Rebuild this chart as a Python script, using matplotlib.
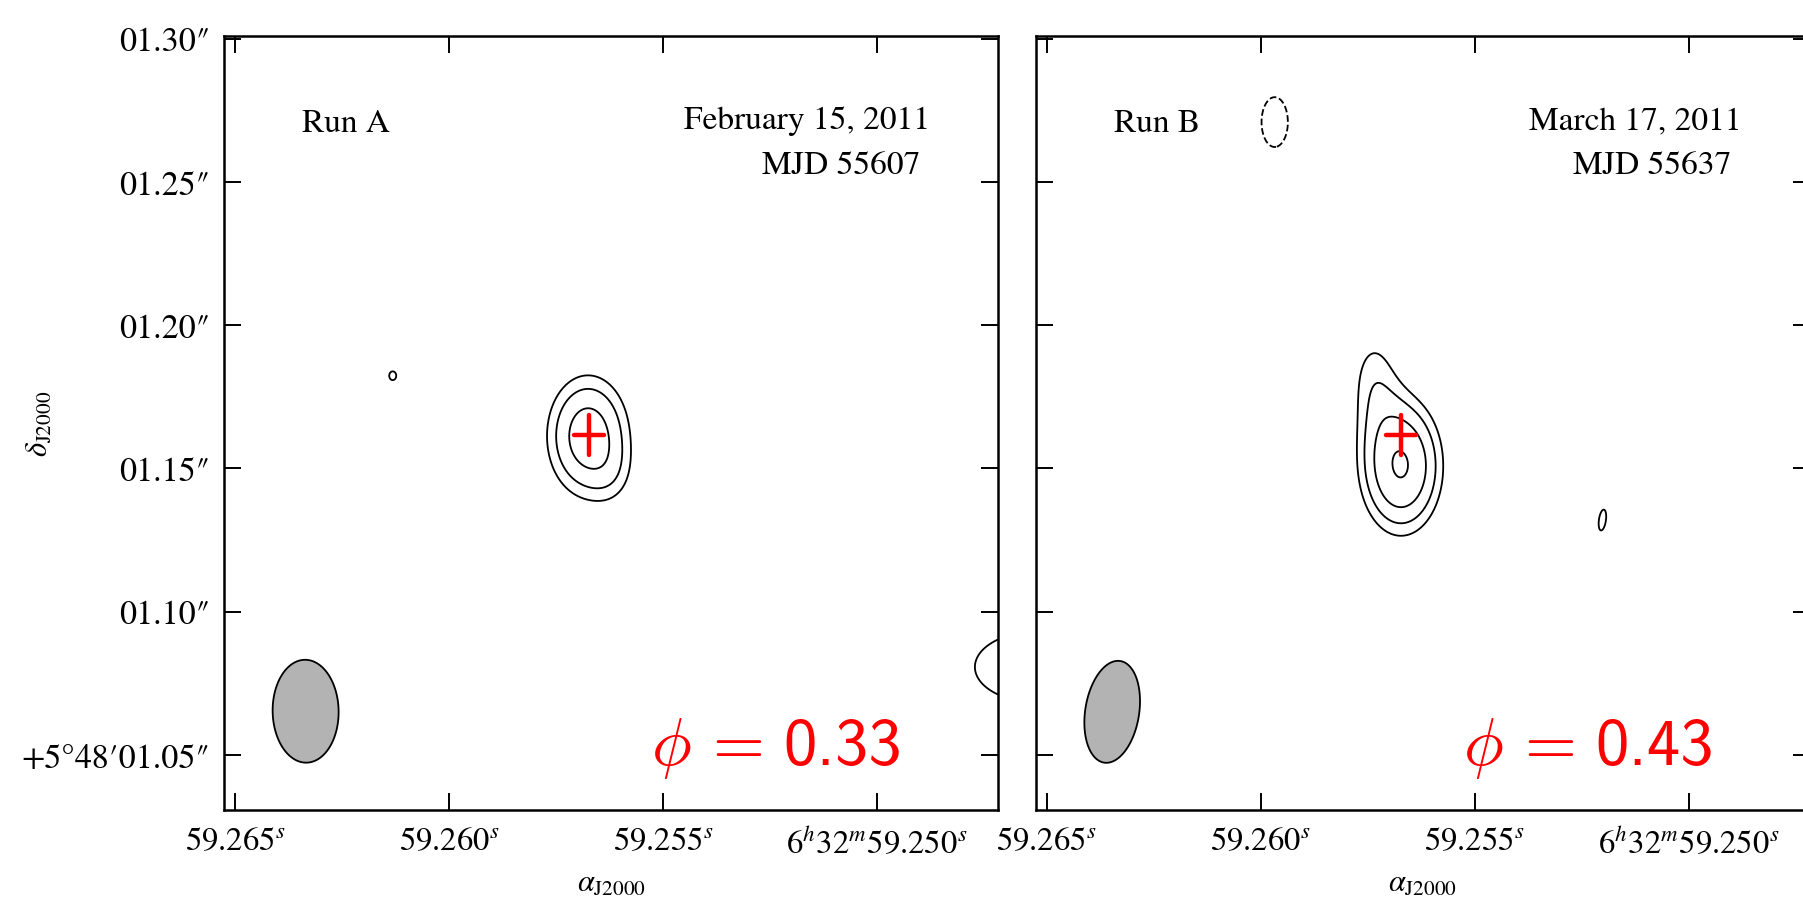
import numpy as np
import matplotlib
matplotlib.use("Agg")
from matplotlib import pyplot as plt

plt.rcParams["font.family"] = "STIXGeneral"
plt.rcParams["mathtext.fontset"] = "stix"

# axes: RA in seconds of 6h32m, Dec in arcsec of +5d48'
ra_ticks = [59.265, 59.260, 59.255, 59.250]
ra_labels = [r"$59.265^{s}$", r"$59.260^{s}$", r"$59.255^{s}$", r"$6^{h}32^{m}59.250^{s}$"]
dec_ticks = [1.05, 1.10, 1.15, 1.20, 1.25, 1.30]
dec_labels = ["+5°48′01.05″", "01.10″", "01.15″", "01.20″", "01.25″", "01.30″"]
ra_lim = (59.265257, 59.247173)
dec_lim = (1.0308, 1.3009)
dec0 = 5 + 48 / 60

runs = ["Run A", "Run B"]
dates = ["February 15, 2011", "March 17, 2011"]
mjds = ["MJD 55607", "MJD 55637"]
phases = [0.33, 0.43]

# expected position (red cross) with its uncertainty
cross_ra, cross_dec = 59.25672, 1.1617
cross_ra_err, cross_dec_err = 0.00035, 0.0070

# synthesized beam: centre, FWHM major/minor (arcsec), position angle (deg)
beam_ra = [59.26335, 59.26347]
beam_dec = [1.06527, 1.06506]
beam_maj = [0.0359, 0.0359]
beam_min = [0.0230, 0.0188]
beam_pa = [1.0, -9.0]

# emission: centre, peak (rms units), E-W / N-S sigma (arcsec), PA
comp_a_ra = [59.256752, 59.256130, 59.261315, 59.246238]
comp_a_dec = [1.16130, 1.14630, 1.18234, 1.0807]
comp_a_peak = [7.2, 1.1, 3.3, 4.8]
comp_a_wid = [0.0108, 0.0063, 0.0028, 0.0227]
comp_a_hgt = [0.0160, 0.0087, 0.0035, 0.0128]
comp_a_pa = [0, 0, 0, 0]

comp_b_ra = [59.256722, 59.257376, 59.252016, 59.259673]
comp_b_dec = [1.15083, 1.18293, 1.13199, 1.27086]
comp_b_peak = [8.67, 3.0, 3.3, -3.3]
comp_b_wid = [0.0101, 0.0070, 0.0028, 0.0105]
comp_b_hgt = [0.0167, 0.0147, 0.0084, 0.0199]
comp_b_pa = [0, 0, -8, 0]

levels = [-3, 3, 3 * 2 ** 0.5, 6, 6 * 2 ** 0.5, 12]

cosd = np.cos(np.radians(dec0))
RA, DEC = np.meshgrid(np.linspace(ra_lim[1], ra_lim[0], 1500),
                      np.linspace(dec_lim[0], dec_lim[1], 1500))


def sky_map(ras, decs, peaks, wids, hgts, pas):
    img = np.zeros_like(RA)
    for r0, d0, p, w, h, a in zip(ras, decs, peaks, wids, hgts, pas):
        dx = (RA - r0) * 15 * cosd
        dy = DEC - d0
        t = np.radians(a)
        m = dx * np.sin(t) + dy * np.cos(t)
        n = dx * np.cos(t) - dy * np.sin(t)
        img += p * np.exp(-0.5 * (n / w) ** 2 - 0.5 * (m / h) ** 2)
    return img


maps = [sky_map(comp_a_ra, comp_a_dec, comp_a_peak, comp_a_wid, comp_a_hgt, comp_a_pa),
        sky_map(comp_b_ra, comp_b_dec, comp_b_peak, comp_b_wid, comp_b_hgt, comp_b_pa)]

fig = plt.figure(figsize=(18.03, 9.03), dpi=100)
axes = [fig.add_axes([0.12424, 0.10188, 0.42929, 0.85714]),
        fig.add_axes([0.57443, 0.10188, 0.42929, 0.85714])]

for i, ax in enumerate(axes):
    ax.contour(RA, DEC, maps[i], levels=levels, colors="k", linewidths=1.3)

    # beam ellipse
    t = np.linspace(0, 2 * np.pi, 300)
    pa = np.radians(beam_pa[i])
    m = beam_maj[i] / 2 * np.cos(t)
    n = beam_min[i] / 2 * np.sin(t)
    dx = n * np.cos(pa) + m * np.sin(pa)
    dy = -n * np.sin(pa) + m * np.cos(pa)
    ax.fill(beam_ra[i] + dx / (15 * cosd), beam_dec[i] + dy,
            facecolor="#b3b3b3", edgecolor="k", lw=1.3)

    eb = ax.errorbar(cross_ra, cross_dec, xerr=cross_ra_err, yerr=cross_dec_err,
                     fmt="none", ecolor="red", elinewidth=3.2, capsize=0, zorder=5)
    eb[2][0].set_capstyle("round")
    eb[2][1].set_capstyle("round")

    ax.text(0.101, 0.877, runs[i], transform=ax.transAxes, fontsize=24)
    ax.text(0.912, 0.881, dates[i], transform=ax.transAxes, fontsize=24, ha="right")
    ax.text(0.899, 0.823, mjds[i], transform=ax.transAxes, fontsize=24, ha="right")
    # orbital phase: TeX phi and '=', sans-serif digits
    ax.text(0.552, 0.0594, r"$\phi\,=$", transform=ax.transAxes,
            ha="left", va="baseline", color="red", fontsize=48, math_fontfamily="cm")
    ax.text(0.876, 0.0594, "%.2f" % phases[i], transform=ax.transAxes, family="cmss10",
            ha="right", va="baseline", color="red", fontsize=48)

    ax.set_xlim(ra_lim)
    ax.set_ylim(dec_lim)
    ax.set_xticks(ra_ticks, ra_labels)
    ax.set_yticks(dec_ticks, dec_labels)
    ax.tick_params(direction="in", length=12, width=1.4, top=True, right=True)
    ax.tick_params(axis="x", pad=12, labelsize=23.5)
    ax.tick_params(axis="y", pad=10, labelsize=24.5)
    for s in ax.spines.values():
        s.set_linewidth(1.8)

    ax.set_xlabel(r"$\alpha_{\rm J2000}$", fontsize=22)
    ax.xaxis.set_label_coords(0.5, -0.0956)
    ax.xaxis.label.set_va("center")

axes[0].set_ylabel(r"$\delta_{\rm J2000}$", fontsize=22)
axes[0].yaxis.set_label_coords(-0.238, 0.5)
axes[0].yaxis.label.set_va("center")
axes[1].tick_params(labelleft=False)

fig.savefig("out.png", dpi=100)
